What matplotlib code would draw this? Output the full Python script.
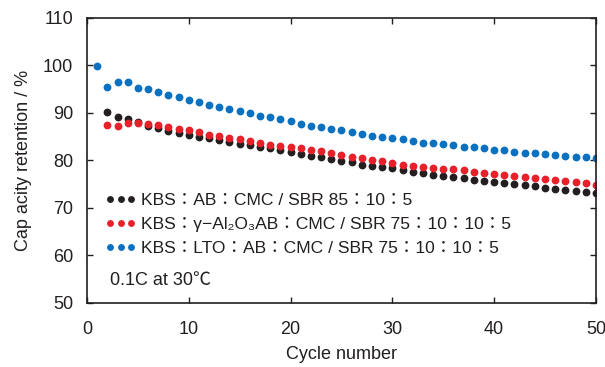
import matplotlib
matplotlib.use("Agg")
import matplotlib.pyplot as plt

plt.rcParams['font.family'] = ['Liberation Sans', 'Noto Sans CJK JP', 'DejaVu Sans']

# datos (retencion de capacidad, %)
ciclos = list(range(1, 51))

# ciclos 2-50 (el ciclo 1 queda tapado por la serie azul)
kbs_ab = [90.1, 89.1, 88.7, 88.1, 87.3, 86.7, 86.1, 85.8, 85.3,
          84.9, 84.6, 84.2, 83.9, 83.5, 83.2, 82.8, 82.5, 82.1, 81.8,
          81.4, 81.0, 80.6, 80.3, 79.9, 79.6, 79.1, 78.8, 78.5, 78.4,
          77.9, 77.6, 77.4, 77.0, 76.7, 76.4, 76.2, 75.9, 75.7, 75.5,
          75.3, 75.0, 74.8, 74.6, 74.2, 74.0, 73.8, 73.5, 73.4, 73.2]

kbs_al2o3 = [87.5, 87.3, 87.9, 87.9, 87.7, 87.5, 87.0, 86.6, 86.3,
             85.9, 85.4, 85.1, 84.7, 84.4, 84.0, 83.7, 83.3, 83.0, 82.8,
             82.6, 82.1, 81.9, 81.6, 81.2, 80.8, 80.4, 80.1, 79.8, 79.5,
             79.1, 78.9, 78.6, 78.4, 78.2, 78.1, 77.9, 77.5, 77.4, 77.2,
             77.0, 76.7, 76.5, 76.3, 76.0, 75.8, 75.6, 75.4, 75.2, 74.9]

# ciclos 1-50
kbs_lto = [99.9, 95.4, 96.4, 96.4, 95.2, 94.9, 94.4, 93.8, 93.4, 92.6,
           92.2, 91.7, 91.2, 90.8, 90.3, 89.9, 89.4, 89.1, 88.7, 88.2,
           87.7, 87.3, 87.0, 86.5, 86.3, 85.9, 85.6, 85.2, 84.9, 84.7,
           84.5, 84.0, 83.7, 83.7, 83.4, 83.2, 82.9, 82.8, 82.6, 82.1,
           82.1, 81.8, 81.6, 81.6, 81.3, 81.2, 81.0, 80.7, 80.6, 80.4]

etiquetas = ["KBS：AB：CMC / SBR 85：10：5",
             "KBS：γ−Al₂O₃AB：CMC / SBR 75：10：10：5",
             "KBS：LTO：AB：CMC / SBR 75：10：10：5"]
colores = ['#231f20', '#e8202a', '#0a70c0']

texto = '#231f20'

fig = plt.figure(figsize=(6.05, 3.67), dpi=100)
ax = fig.add_axes([0.1438, 0.1744, 0.8412, 0.7776])

series = [(ciclos[1:], kbs_ab), (ciclos[1:], kbs_al2o3), (ciclos, kbs_lto)]
for (x, serie), etiqueta, color in zip(series, etiquetas, colores):
    ax.plot(x, serie, linestyle='none', marker='o', ms=4.6,
            color=color, mec=color, label=etiqueta)

ax.set_xlim(0, 50)
ax.set_ylim(50, 110)
ax.set_xticks(range(0, 51, 10))
ax.set_yticks(range(50, 111, 10))

ax.tick_params(direction='in', top=True, right=True, length=4.5, width=1,
               labelsize=13, colors=texto)
ax.tick_params(axis='x', pad=13)
ax.tick_params(axis='y', pad=10)
for s in ax.spines.values():
    s.set_linewidth(1.2)
    s.set_color(texto)

ax.set_xlabel("Cycle number", fontsize=13, color=texto, labelpad=6)
ax.set_ylabel("Cap acity retention / %", fontsize=13, color=texto, labelpad=8)

ax.legend(loc='lower left', bbox_to_anchor=(0.022, 0.14), frameon=False,
          numpoints=3, markerscale=0.85, handlelength=1.8, handletextpad=0.22,
          labelspacing=0.5, fontsize=12.6, labelcolor=texto, borderaxespad=0)

ax.text(0.045, 0.08, "0.1C at 30℃", transform=ax.transAxes, fontsize=13,
        color=texto, va='center', ha='left')

plt.savefig("out.png", dpi=100)
